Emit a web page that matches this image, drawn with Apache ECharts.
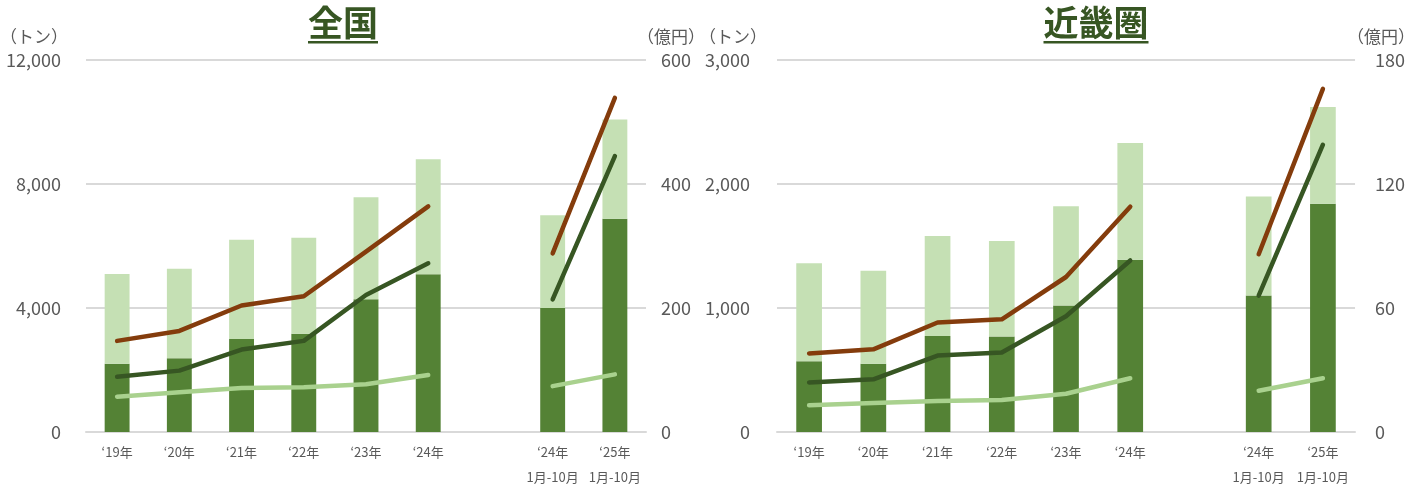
<!DOCTYPE html>
<html>
<head>
<meta charset="utf-8">
<script src="https://cdn.jsdelivr.net/npm/echarts@6/dist/echarts.min.js"></script>
<style>
  html, body { margin: 0; padding: 0; background: #fff; }
  #chart { width: 1408px; height: 490px; }
</style>
</head>
<body>
<div id="chart"></div>
<script>
// カテゴリ（7番目は空白の区切り）
const categories = ['‘19年', '‘20年', '‘21年', '‘22年', '‘23年', '‘24年', '', '‘24年\n1月-10月', '‘25年\n1月-10月']

// 全国（トン / 億円）
const natDark = [2200, 2380, 3000, 3170, 4280, 5090, null, 4000, 6880]
const natLight = [2900, 2890, 3200, 3100, 3290, 3710, null, 2990, 3200]
const natBrown = [147, 163, 204, 219, 291, 364, null, 288, 539]
const natGreen = [89, 99, 133, 147, 221, 272, null, 214, 445]
const natPale = [57, 64, 71, 72, 77, 92, null, 74, 93]

// 近畿圏（トン / 億円）
const kinDark = [570, 550, 775, 770, 1020, 1390, null, 1100, 1840]
const kinLight = [790, 750, 805, 770, 800, 940, null, 800, 780]
const kinBrown = [38, 40, 53, 54.5, 75, 109, null, 86, 166]
const kinGreen = [24, 25.5, 37, 38.5, 56, 83, null, 66, 139]
const kinPale = [13, 14, 15, 15.5, 18.5, 26, null, 20, 26]

// 軸の目盛
const natTonTicks = { min: 0, max: 12000, interval: 4000 }
const natYenTicks = { min: 0, max: 600, interval: 200 }
const kinTonTicks = { min: 0, max: 3000, interval: 1000 }
const kinYenTicks = { min: 0, max: 180, interval: 60 }

const FONT = '"Noto Sans CJK JP", "Noto Sans", sans-serif'
const colorDarkBar = '#548235'
const colorLightBar = '#C5E0B4'
const colorBrown = '#843C0C'
const colorGreen = '#375623'
const colorPale = '#A9D18E'
const labelColor = '#595959'

const comma = v => String(v).replace(/\B(?=(\d{3})+(?!\d))/g, ',')

function xAxis(gridIndex) {
  return {
    type: 'category',
    gridIndex,
    data: categories,
    axisLine: { lineStyle: { color: '#D9D9D9', width: 2 } },
    axisTick: { show: false },
    axisLabel: { color: labelColor, fontSize: 13, fontFamily: FONT, margin: 8, lineHeight: 25, interval: 0 }
  }
}

function yAxis(gridIndex, ticks, side, margin, split) {
  return {
    type: 'value',
    gridIndex,
    position: side,
    min: ticks.min,
    max: ticks.max,
    interval: ticks.interval,
    axisLine: { show: false },
    axisTick: { show: false },
    axisLabel: { color: labelColor, fontSize: 18, fontFamily: FONT, margin, formatter: comma },
    splitLine: { show: split, lineStyle: { color: '#D9D9D9', width: 2 } }
  }
}

function bars(idx, dark, light) {
  return [
    { name: '数量1', type: 'bar', xAxisIndex: idx, yAxisIndex: idx * 2, stack: 's' + idx, barWidth: '40%', data: dark, itemStyle: { color: colorDarkBar } },
    { name: '数量2', type: 'bar', xAxisIndex: idx, yAxisIndex: idx * 2, stack: 's' + idx, barWidth: '40%', data: light, itemStyle: { color: colorLightBar } }
  ]
}

function line(idx, data, color) {
  return {
    type: 'line', xAxisIndex: idx, yAxisIndex: idx * 2 + 1, data,
    symbol: 'none', connectNulls: false, z: 5,
    lineStyle: { color, width: 4.5, cap: 'round', join: 'round' }
  }
}

function title(text, cx, n) {
  const size = 35
  const w = size * n
  return {
    type: 'group',
    children: [
      { type: 'text', x: cx, y: 23, style: { text, font: 'bold ' + size + 'px ' + FONT, fill: colorGreen, textAlign: 'center', textVerticalAlign: 'middle' } },
      { type: 'rect', shape: { x: cx - w / 2, y: 41, width: w, height: 2.5 }, style: { fill: colorGreen } }
    ]
  }
}

function unit(text, cx) {
  return { type: 'text', x: cx, y: 37, style: { text, font: '17px ' + FONT, fill: labelColor, textAlign: 'center', textVerticalAlign: 'middle' } }
}

const chart = echarts.init(document.getElementById('chart'))
chart.setOption({
  animation: false,
  grid: [
    { left: 86, right: 762, top: 60, bottom: 55 },
    { left: 777, right: 50, top: 60, bottom: 55 }
  ],
  xAxis: [xAxis(0), xAxis(1)],
  yAxis: [
    yAxis(0, natTonTicks, 'left', 25, true),
    yAxis(0, natYenTicks, 'right', 15, false),
    yAxis(1, kinTonTicks, 'left', 27, true),
    yAxis(1, kinYenTicks, 'right', 20, false)
  ],
  series: [
    ...bars(0, natDark, natLight),
    line(0, natPale, colorPale),
    line(0, natGreen, colorGreen),
    line(0, natBrown, colorBrown),
    ...bars(1, kinDark, kinLight),
    line(1, kinPale, colorPale),
    line(1, kinGreen, colorGreen),
    line(1, kinBrown, colorBrown)
  ],
  graphic: [
    title('全国', 343, 2),
    title('近畿圏', 1096, 3),
    unit('（トン）', 34),
    unit('（億円）', 671),
    unit('（トン）', 733),
    unit('（億円）', 1381)
  ]
})
</script>
</body>
</html>
